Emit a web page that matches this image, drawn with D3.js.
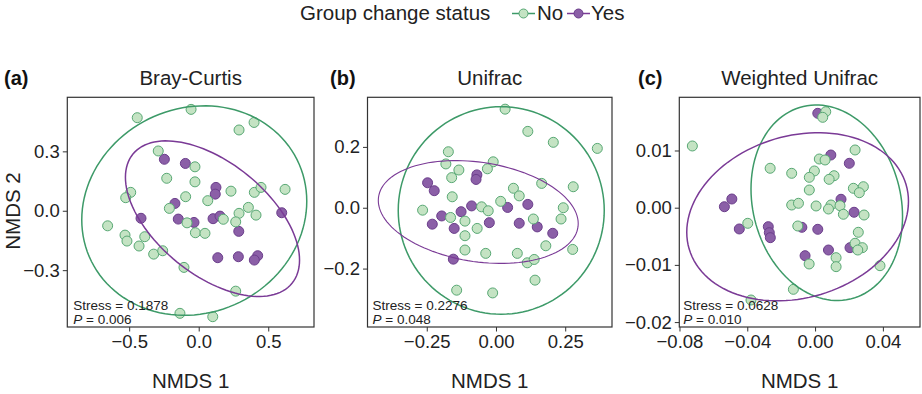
<!DOCTYPE html>
<html>
<head>
<meta charset="utf-8">
<script src="https://cdn.jsdelivr.net/npm/d3@7"></script>
<style>
  body { margin: 0; background: #fff; }
  svg { font-family: "Liberation Sans", Arial, sans-serif; }
</style>
</head>
<body>
<svg id="chart" width="922" height="394"></svg>
<script>
// groups and panel texts
var groups = ["No", "Yes"];
var panelTitles = ["Bray-Curtis", "Unifrac", "Weighted Unifrac"];
var panelTags = ["(a)", "(b)", "(c)"];
var stressValues = ["0.1878", "0.2276", "0.0628"];
var pValues = ["0.006", "0.048", "0.010"];

// axis limits and ticks
var xDomains = [[-0.945, 0.829], [-0.464, 0.419], [-0.0801, 0.0619]];
var yDomains = [[-0.587, 0.573], [-0.392, 0.363], [-0.02086, 0.0193]];
var xTicks = [[-0.5, 0, 0.5], [-0.25, 0, 0.25], [-0.08, -0.04, 0, 0.04]];
var yTicks = [[-0.3, 0, 0.3], [-0.2, 0, 0.2], [-0.02, -0.01, 0, 0.01]];
var xFormats = [".1f", ".2f", ".2f"];
var yFormats = [".1f", ".1f", ".2f"];

// NMDS scores, Bray-Curtis
var brayNo = [[-0.442,0.470],[-0.055,0.512],[0.290,0.408],[0.398,0.446],[-0.291,0.302],[-0.027,0.222],
  [-0.230,0.164],[-0.027,0.146],[-0.489,0.093],[-0.525,0.066],[-0.094,0.071],[0.065,0.051],[0.232,0.099],
  [0.400,0.093],[0.448,0.118],[0.621,0.108],[-0.211,0.012],[0.357,0.017],[0.290,-0.013],[0.412,-0.022],
  [-0.655,-0.076],[-0.084,-0.061],[0.177,-0.043],[0.266,-0.056],[-0.530,-0.123],[-0.516,-0.153],
  [-0.388,-0.131],[-0.024,-0.111],[0.045,-0.114],[-0.429,-0.178],[-0.324,-0.219],[-0.259,-0.202],
  [-0.106,-0.286],[0.266,-0.406],[-0.135,-0.518],[0.101,-0.535]];
var brayYes = [[-0.247,0.260],[-0.096,0.239],[0.124,0.118],[0.119,0.084],[-0.171,0.037],[-0.415,-0.038],
  [-0.147,-0.042],[-0.034,-0.059],[0.103,-0.040],[0.153,-0.027],[0.288,-0.104],[0.597,-0.010],
  [0.137,-0.237],[0.285,-0.232],[0.424,-0.227],[0.400,-0.249]];

// NMDS scores, Unifrac
var uniNo = [[0.033,0.324],[0.115,0.251],[0.207,0.215],[0.366,0.195],[-0.172,0.184],[-0.181,0.144],
  [-0.134,0.124],[-0.160,0.099],[-0.010,0.151],[-0.031,0.128],[0.165,0.080],[0.063,0.064],[0.084,0.039],
  [0.279,0.069],[-0.158,0.036],[0.017,0.021],[0.243,0.000],[-0.265,-0.008],[-0.052,0.003],[-0.028,-0.010],
  [-0.164,-0.032],[-0.112,-0.044],[0.135,-0.037],[0.235,-0.037],[-0.068,-0.068],[-0.112,-0.092],
  [0.180,-0.125],[0.277,-0.137],[-0.112,-0.139],[-0.037,-0.150],[0.077,-0.150],[0.113,-0.181],
  [0.138,-0.170],[0.141,-0.238],[-0.142,-0.271],[-0.012,-0.280]];
var uniYes = [[-0.247,0.082],[-0.223,0.056],[-0.069,0.108],[-0.072,0.093],[-0.088,0.006],[-0.126,-0.013],
  [-0.196,-0.027],[-0.230,-0.054],[-0.151,-0.068],[-0.024,-0.049],[0.042,0.001],[0.115,0.011],
  [0.084,-0.051],[0.149,-0.063],[0.205,-0.084],[-0.154,-0.169]];

// NMDS scores, Weighted Unifrac
var wuniNo = [[-0.0724,0.01079],[0.0063,0.01678],[0.0045,0.01580],[0.0236,0.01009],[0.0025,0.00851],
  [0.0059,0.00834],[-0.0265,0.00689],[-0.0138,0.00601],[-0.0004,0.00642],[-0.0034,0.00531],[0.0112,0.00559],
  [0.0083,0.00496],[0.0226,0.00339],[0.0285,0.00367],[0.0261,0.00262],[-0.0034,0.00309],[-0.0138,0.00047],
  [-0.0098,0.00077],[0.0006,0.00030],[0.0094,0.00047],[0.0079,-0.00023],[0.0147,0.00035],[0.0167,-0.00115],
  [0.0289,-0.00128],[-0.0397,-0.00273],[-0.0102,-0.00320],[0.0255,-0.00430],[0.0236,-0.00622],
  [0.0279,-0.00699],[0.0252,-0.00740],[0.0124,-0.00874],[-0.0035,-0.00984],[0.0124,-0.01031],
  [0.0383,-0.01014],[-0.0128,-0.01427],[-0.0378,-0.01614]];
var wuniYes = [[0.0016,0.01650],[0.0093,0.00921],[0.0202,0.00776],[-0.0491,0.00152],[-0.0535,0.00017],
  [0.0153,0.00147],[0.0230,-0.00080],[-0.0447,-0.00372],[-0.0276,-0.00332],[-0.0270,-0.00437],
  [-0.0264,-0.00524],[-0.0078,-0.00343],[0.0016,-0.00378],[-0.0059,-0.00839],[0.0079,-0.00740],
  [0.0206,-0.00699]];

// 95% ellipses: centre x, centre y, half width, half height, y offset at the rightmost point
var ellipseNo = [[-0.032, 0.001, 0.809, 0.529, 0.047], [0.019, -0.009, 0.372, 0.341, 0], [0.0069, 0.00086, 0.0447, 0.0171, -0.0024]];
var ellipseYes = [[0.099, -0.040, 0.626, 0.393, -0.209], [-0.064, -0.014, 0.361, 0.169, -0.038], [-0.0103, -0.00159, 0.0654, 0.0147, 0.0027]];

var pointsNo = [brayNo, uniNo, wuniNo];
var pointsYes = [brayYes, uniYes, wuniYes];

// styling
var fillColor = d3.scaleOrdinal().domain(groups).range(["#c4e3c3", "#8b5fa7"]);
var strokeColor = d3.scaleOrdinal().domain(groups).range(["#58a874", "#6b3e8b"]);
var ellipseColor = d3.scaleOrdinal().domain(groups).range(["#3d9a68", "#7a3a96"]);
var textColor = "#222";

// panel boxes in pixels
var boxes = [
  {left: 67.3, right: 314, top: 97.3, bottom: 327, textDx: 6},
  {left: 367.5, right: 612, top: 97.3, bottom: 327, textDx: 5},
  {left: 679.3, right: 920, top: 97.3, bottom: 327, textDx: 4}
];

var svg = d3.select("#chart");

// legend at the top
var legend = svg.append("g").attr("class", "legend");
legend.append("text")
  .attr("x", 300).attr("y", 20)
  .style("font-size", "20.5px").style("fill", textColor)
  .text("Group change status");
var keyX = [512, 567];
var keyLabelX = [537, 591];
groups.forEach(function(g, i) {
  legend.append("line")
    .attr("x1", keyX[i]).attr("x2", keyX[i] + 23)
    .attr("y1", 13.5).attr("y2", 13.5)
    .style("stroke", ellipseColor(g)).style("stroke-width", 1.5);
  legend.append("circle")
    .attr("cx", keyX[i] + 11.5).attr("cy", 13.5).attr("r", 4.5)
    .style("fill", fillColor(g)).style("stroke", strokeColor(g)).style("stroke-width", 1);
  legend.append("text")
    .attr("x", keyLabelX[i]).attr("y", 20)
    .style("font-size", "20.5px").style("fill", textColor)
    .text(g);
});

// y axis title, shared
svg.append("text")
  .attr("transform", "translate(20,211) rotate(-90)")
  .attr("text-anchor", "middle")
  .style("font-size", "20.5px").style("fill", textColor)
  .text("NMDS 2");

var tagX = [4, 330, 638];

boxes.forEach(function(b, i) {
  var x = d3.scaleLinear().domain(xDomains[i]).range([b.left, b.right]);
  var y = d3.scaleLinear().domain(yDomains[i]).range([b.bottom, b.top]);
  var g = svg.append("g").attr("class", "panel");

  // tag and title
  g.append("text")
    .attr("x", tagX[i]).attr("y", 85)
    .style("font-size", "20px").style("font-weight", "bold").style("fill", "#111")
    .text(panelTags[i]);
  g.append("text")
    .attr("x", (b.left + b.right) / 2).attr("y", 85)
    .attr("text-anchor", "middle")
    .style("font-size", "20.5px").style("fill", textColor)
    .text(panelTitles[i]);

  // axes
  var xAxis = d3.axisBottom(x).tickValues(xTicks[i]).tickFormat(d3.format(xFormats[i]))
    .tickSizeInner(4.5).tickSizeOuter(0).tickPadding(3);
  var yAxis = d3.axisLeft(y).tickValues(yTicks[i]).tickFormat(d3.format(yFormats[i]))
    .tickSizeInner(4.5).tickSizeOuter(0).tickPadding(3);
  var gx = g.append("g").attr("transform", "translate(0," + b.bottom + ")").call(xAxis);
  var gy = g.append("g").attr("transform", "translate(" + b.left + ",0)").call(yAxis);
  [gx, gy].forEach(function(ax) {
    ax.select(".domain").remove();
    ax.selectAll(".tick line").style("stroke", "#333");
    ax.selectAll(".tick text").style("font-size", "18.5px").style("fill", textColor)
      .style("font-family", "'Liberation Sans', Arial, sans-serif");
  });

  // x axis title
  g.append("text")
    .attr("x", (b.left + b.right) / 2).attr("y", 388)
    .attr("text-anchor", "middle")
    .style("font-size", "20.5px").style("fill", textColor)
    .text("NMDS 1");

  // points, Yes first then No on top
  var pts = [];
  pointsYes[i].forEach(function(d) { pts.push({x: d[0], y: d[1], group: "Yes"}); });
  pointsNo[i].forEach(function(d) { pts.push({x: d[0], y: d[1], group: "No"}); });
  g.selectAll("circle.pt").data(pts).enter().append("circle")
    .attr("class", "pt")
    .attr("cx", function(d) { return x(d.x); })
    .attr("cy", function(d) { return y(d.y); })
    .attr("r", 5)
    .style("fill", function(d) { return fillColor(d.group); })
    .style("stroke", function(d) { return strokeColor(d.group); })
    .style("stroke-width", 1);

  // ellipses
  var ell = [{p: ellipseNo[i], group: "No"}, {p: ellipseYes[i], group: "Yes"}];
  var line = d3.line().x(function(d) { return x(d[0]); }).y(function(d) { return y(d[1]); })
    .curve(d3.curveLinearClosed);
  ell.forEach(function(e) {
    var p = e.p;
    var cx = p[0], cy = p[1], hx = p[2], hy = p[3], dy = p[4];
    var ry = Math.sqrt(hy * hy - dy * dy);
    var path = d3.range(0, 120).map(function(k) {
      var t = k / 120 * 2 * Math.PI;
      return [cx + hx * Math.cos(t), cy + dy * Math.cos(t) + ry * Math.sin(t)];
    });
    g.append("path").datum(path).attr("d", line)
      .style("fill", "none")
      .style("stroke", ellipseColor(e.group))
      .style("stroke-width", (i === 1 && e.group === "Yes") ? 1.1 : 1.5);
  });

  // box
  g.append("rect")
    .attr("x", b.left).attr("y", b.top)
    .attr("width", b.right - b.left).attr("height", b.bottom - b.top)
    .style("fill", "none").style("stroke", "#333").style("stroke-width", 1.2);

  // stress and P annotation
  g.append("text").attr("x", b.left + b.textDx).attr("y", b.bottom - 17.5)
    .style("font-size", "13.5px").style("fill", textColor)
    .text("Stress = " + stressValues[i]);
  var pl = g.append("text").attr("x", b.left + b.textDx).attr("y", b.bottom - 3.5)
    .style("font-size", "13.5px").style("fill", textColor);
  pl.append("tspan").style("font-style", "italic").text("P");
  pl.append("tspan").text(" = " + pValues[i]);
});
</script>
</body>
</html>
